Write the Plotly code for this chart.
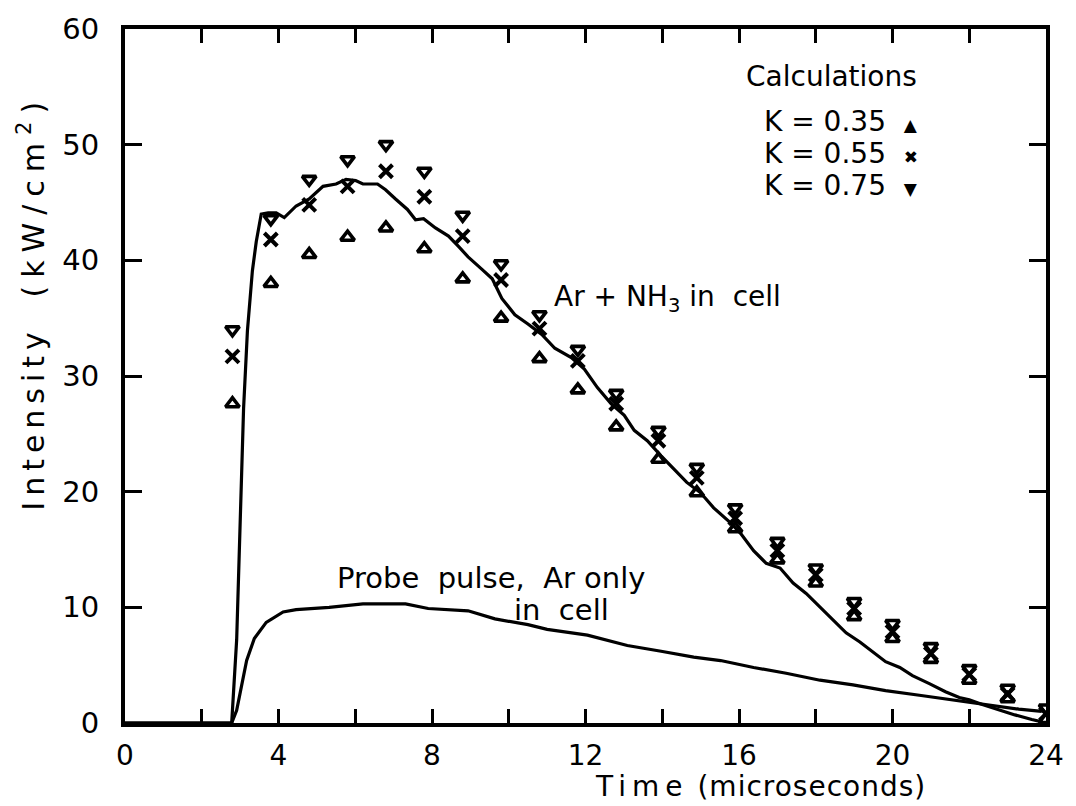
import plotly.graph_objects as go

# Measured intensity, Ar + NH3 in cell (time in microseconds, intensity in kW/cm^2)
ar_nh3_time = [0.0, 2.78, 2.91, 3.01, 3.09, 3.19, 3.32, 3.42, 3.55, 3.73, 3.94, 4.15,
               4.46, 4.80, 5.16, 5.50, 5.76, 6.01, 6.20, 6.58, 6.79, 7.05, 7.36, 7.57,
               7.78, 8.09, 8.43, 8.69, 8.94, 9.31, 9.57, 9.82, 10.16, 10.50, 10.86,
               11.20, 11.63, 11.97, 12.31, 12.67, 13.01, 13.27, 13.61, 13.97, 14.30,
               14.64, 15.00, 15.34, 15.78, 16.04, 16.38, 16.71, 17.07, 17.41, 17.75,
               18.11, 18.45, 18.79, 19.15, 19.49, 19.82, 20.19, 20.52, 20.96, 21.38,
               21.74, 22.00, 22.34, 22.78, 23.19, 23.63, 23.89]
ar_nh3_intensity = [0.0, 0.0, 7.2, 19.2, 27.2, 33.9, 39.1, 41.6, 44.0, 44.1, 44.1, 43.7,
                    44.7, 45.3, 46.4, 46.6, 47.0, 46.9, 46.6, 46.6, 46.1, 45.3, 44.4, 43.5,
                    43.6, 42.8, 42.1, 41.2, 40.3, 39.2, 38.4, 36.7, 35.3, 34.5, 33.6,
                    32.4, 31.6, 30.6, 29.0, 27.6, 26.6, 25.3, 24.4, 23.1, 22.0,
                    20.8, 19.9, 18.6, 17.3, 16.4, 14.9, 13.8, 13.4, 12.1, 11.2,
                    10.0, 8.9, 7.8, 7.0, 6.1, 5.3, 4.8, 4.1, 3.4, 2.7,
                    2.2, 2.0, 1.6, 1.1, 0.7, 0.3, 0.1]

# Probe pulse, Ar only in cell
probe_time = [0.0, 2.78, 2.91, 3.04, 3.17, 3.37, 3.68, 4.12, 4.46, 5.32, 6.20, 7.31,
              7.90, 8.94, 9.64, 10.50, 11.00, 12.05, 13.09, 13.97, 14.82, 15.52, 16.38,
              17.23, 18.11, 18.97, 19.82, 20.70, 21.56, 22.41, 23.29, 23.89]
probe_intensity = [0.0, 0.0, 1.1, 3.1, 5.4, 7.3, 8.7, 9.6, 9.8, 10.0, 10.3, 10.3,
                   9.9, 9.7, 9.0, 8.5, 8.1, 7.6, 6.7, 6.2, 5.7, 5.4, 4.8,
                   4.3, 3.7, 3.3, 2.8, 2.4, 2.0, 1.6, 1.2, 1.0]

# Calculated intensities for three values of K
calc_time = [2.8, 3.8, 4.8, 5.8, 6.8, 7.8, 8.8, 9.8, 10.8, 11.8, 12.8, 13.9, 14.9,
             15.9, 17.0, 18.0, 19.0, 20.0, 21.0, 22.0, 23.0, 24.0]
calc_k035 = [27.6, 38.0, 40.5, 42.0, 42.8, 41.0, 38.4, 35.0, 31.5, 28.8, 25.6, 22.8,
             19.9, 16.8, 14.1, 12.1, 9.2, 7.3, 5.5, 3.7, 2.1, 0.3]
calc_k055 = [31.7, 41.8, 44.8, 46.4, 47.7, 45.5, 42.1, 38.3, 34.1, 31.3, 27.6, 24.4,
             21.2, 17.7, 14.9, 12.8, 9.9, 7.9, 6.0, 4.2, 2.5, 0.8]
calc_k075 = [34.0, 43.6, 47.0, 48.7, 50.0, 47.7, 43.9, 39.7, 35.3, 32.3, 28.5, 25.3,
             22.1, 18.6, 15.7, 13.4, 10.5, 8.6, 6.6, 4.7, 3.0, 1.3]

x_ticks = list(range(0, 25, 2))
x_tick_text = [str(v) if v % 4 == 0 else "" for v in x_ticks]
y_ticks = [0, 10, 20, 30, 40, 50, 60]

FONT = "DejaVu Sans, Liberation Sans, sans-serif"
INK = "black"


def spaced(text, px):
    """Wrap text in a span with extra letter spacing (hand-lettered look)."""
    return f'<span style="letter-spacing:{px}px">{text}</span>'


fig = go.Figure()

fig.add_trace(go.Scatter(x=ar_nh3_time, y=ar_nh3_intensity, mode="lines",
                         line=dict(color=INK, width=3.2), showlegend=False))
fig.add_trace(go.Scatter(x=probe_time, y=probe_intensity, mode="lines",
                         line=dict(color=INK, width=3.2), showlegend=False))

fig.add_trace(go.Scatter(x=calc_time, y=calc_k035, mode="markers", showlegend=False,
                         marker=dict(symbol="triangle-up-open", size=12, color=INK,
                                     line=dict(width=3.6, color=INK))))
fig.add_trace(go.Scatter(x=calc_time, y=calc_k055, mode="markers", showlegend=False,
                         marker=dict(symbol="x-thin-open", size=13, color=INK,
                                     line=dict(width=4, color=INK))))
fig.add_trace(go.Scatter(x=calc_time, y=calc_k075, mode="markers", showlegend=False,
                         marker=dict(symbol="triangle-down-open", size=12, color=INK,
                                     line=dict(width=3.6, color=INK))))

axis_common = dict(
    showgrid=False, zeroline=False, showline=True, linecolor=INK, linewidth=4,
    mirror="allticks", ticks="inside", tickcolor=INK, tickwidth=2.8,
)

fig.update_xaxes(range=[0, 24], tickmode="array", tickvals=x_ticks, ticktext=x_tick_text,
                 ticklen=14, ticklabelstandoff=4,
                 tickfont=dict(family=FONT, size=28, color=INK), **axis_common)
fig.update_yaxes(range=[0, 60], tickmode="array", tickvals=y_ticks,
                 ticklen=17, ticklabelstandoff=16,
                 tickfont=dict(family=FONT, size=29, color=INK), **axis_common)

text_font = dict(family=FONT, size=28, color=INK)
key_font = dict(family=FONT, size=28, color=INK)
SYM = '<span style="font-size:17px">{}</span>'

annotations = [
    # axis titles
    dict(text=spaced("Time", 6) + " " + spaced("(microseconds)", 1),
         x=0.69, y=-0.092, xref="paper", yref="paper",
         xanchor="center", yanchor="middle", showarrow=False,
         font=dict(family=FONT, size=28, color=INK)),
    dict(text=spaced("Intensity", 6) + "   " + spaced("(kW/cm<sup>2</sup>)", 8),
         x=-0.101, y=0.607, xref="paper", yref="paper",
         xanchor="center", yanchor="middle", textangle=-90, showarrow=False,
         font=dict(family=FONT, size=30, color=INK)),
    # key for the calculated points
    dict(text="Calculations", x=0.767, y=0.932, xref="paper", yref="paper",
         xanchor="center", yanchor="middle", showarrow=False, font=key_font),
    dict(text="K = 0.35  " + SYM.format("\u25B2"), x=0.863, y=0.866, xref="paper", yref="paper",
         xanchor="right", yanchor="middle", showarrow=False, font=key_font),
    dict(text="K = 0.55  " + SYM.format("\u2716"), x=0.863, y=0.820, xref="paper", yref="paper",
         xanchor="right", yanchor="middle", showarrow=False, font=key_font),
    dict(text="K = 0.75  " + SYM.format("\u25BC"), x=0.863, y=0.774, xref="paper", yref="paper",
         xanchor="right", yanchor="middle", showarrow=False, font=key_font),
    # curve labels
    dict(text="Ar + NH<sub>3</sub> in  cell", x=0.464, y=0.612, xref="paper", yref="paper",
         xanchor="left", yanchor="middle", showarrow=False, font=text_font),
    dict(text="Probe  pulse,  Ar only", x=0.397, y=0.209, xref="paper", yref="paper",
         xanchor="center", yanchor="middle", showarrow=False,
         font=dict(family=FONT, size=29, color=INK)),
    dict(text="in  cell", x=0.474, y=0.163, xref="paper", yref="paper",
         xanchor="center", yanchor="middle", showarrow=False,
         font=dict(family=FONT, size=29, color=INK)),
]

fig.update_layout(
    width=1076, height=806,
    margin=dict(l=125, r=26, t=27, b=83),
    paper_bgcolor="white", plot_bgcolor="white",
    annotations=annotations,
    showlegend=False,
)

fig.write_html("out.html")
